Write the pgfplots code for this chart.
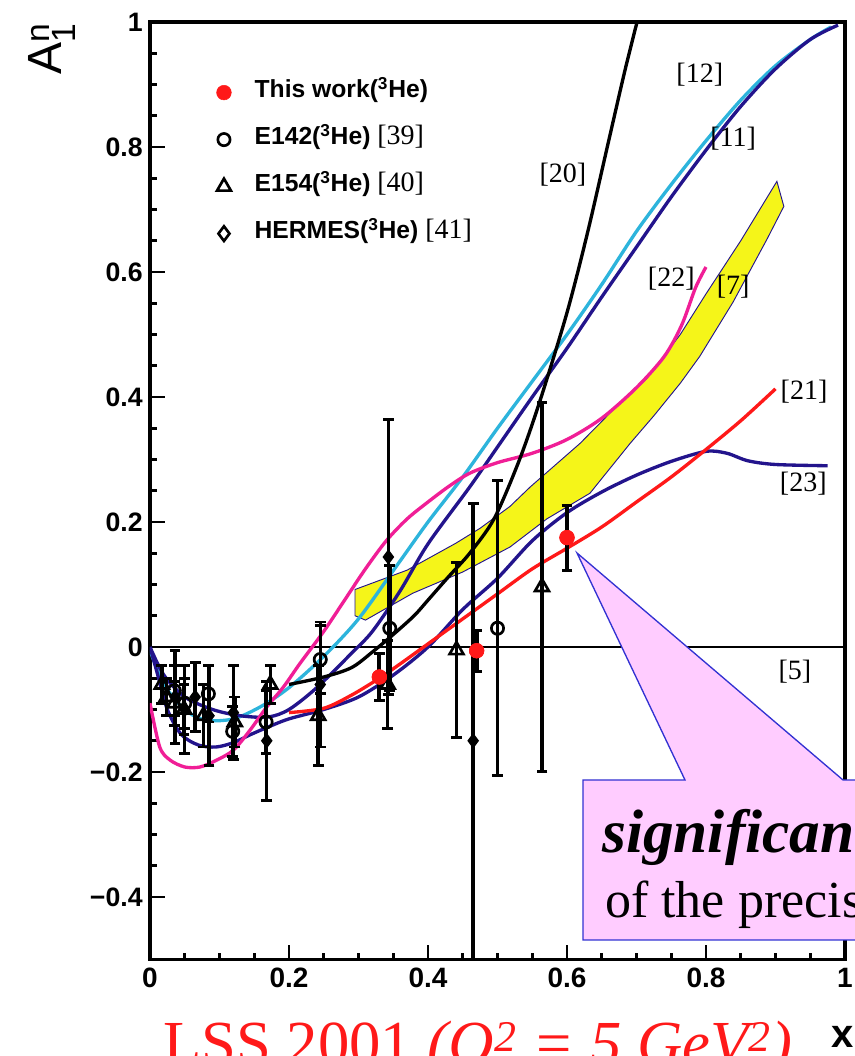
\documentclass[border=0pt]{standalone}
\usepackage{pgfplots}
\pgfplotsset{compat=1.18}
\usepackage{fontspec}
\setmainfont{Liberation Serif}
\setsansfont{Liberation Sans}
\definecolor{cyanc}{RGB}{45,180,220}
\definecolor{navyc}{RGB}{35,20,140}
\definecolor{pinkc}{RGB}{240,30,150}
\definecolor{redc}{RGB}{255,25,25}
\definecolor{bandc}{RGB}{245,245,25}
\definecolor{calloutc}{RGB}{255,204,255}
\definecolor{calloutb}{RGB}{50,50,210}
\begin{document}
\begin{tikzpicture}
\useasboundingbox (-112.5pt,-72.375pt) rectangle (528.75pt,719.625pt);
\begin{axis}[
  at={(0pt,0pt)}, anchor=south west,
  scale only axis, width=521.25pt, height=703.125pt,
  xmin=0, xmax=1, ymin=-0.5, ymax=1,
  axis line style={line width=2.6pt},
  tick style={black, line width=2pt},
  tick align=inside,
  xtick pos=bottom, ytick pos=left,
  major tick length=11pt, minor tick length=5pt,
  minor tick num=3,
  xtick={0,0.2,0.4,0.6,0.8,1},
  xticklabels={0,0.2,0.4,0.6,0.8,1},
  ytick={-0.4,-0.2,0,0.2,0.4,0.6,0.8,1},
  yticklabels={−0.4,−0.2,0,0.2,0.4,0.6,0.8,1},
  yticklabel style={font=\sffamily\bfseries\fontsize{20}{20}\selectfont, xshift=-2pt},
  xticklabel style={font=\sffamily\bfseries\fontsize{21}{21}\selectfont, yshift=-3pt},
  legend style={at={(axis cs:0.0955,0.9045)}, anchor=north west, draw=none, fill=none,
    inner sep=0pt, row sep=19.25pt, column sep=17.5pt,
    nodes={inner sep=0pt, text height=12pt, text depth=4pt},
    font=\sffamily\bfseries\fontsize{18.5}{18.5}\selectfont},
  legend cell align=left,
]
% band [7]
\addplot[fill=bandc, draw=navyc, line width=0.7pt, forget plot] coordinates {
 (0.295,0.092) (0.37,0.123) (0.44,0.166) (0.475,0.19) (0.518,0.225) (0.547,0.256)
 (0.619,0.326) (0.666,0.379) (0.715,0.43) (0.763,0.5) (0.8,0.565) (0.85,0.65) (0.902,0.745)
 (0.912,0.705) (0.888,0.653) (0.839,0.552) (0.791,0.465) (0.763,0.422) (0.725,0.37)
 (0.691,0.326) (0.633,0.246) (0.571,0.205) (0.518,0.16) (0.45,0.12) (0.378,0.086)
 (0.31,0.043) (0.295,0.05)} -- cycle;
% [5] zero line
\addplot[black, line width=2pt, forget plot] coordinates {(0,0) (1,0)};
% [12] cyan
\addplot[cyanc, line width=2.5pt, smooth, forget plot] coordinates {
 (0,-0.005) (0.02,-0.06) (0.05,-0.1) (0.08,-0.117) (0.12,-0.115) (0.16,-0.095) (0.2,-0.065)
 (0.25,-0.015) (0.3,0.045) (0.355,0.13) (0.4,0.2) (0.45,0.272) (0.5,0.35) (0.55,0.425)
 (0.6,0.5) (0.65,0.58) (0.7,0.665) (0.75,0.74) (0.8,0.81) (0.85,0.875) (0.9,0.93)
 (0.95,0.972) (0.98,0.992)};
% [11] navy
\addplot[navyc, line width=2.5pt, smooth, forget plot] coordinates {
 (0,0) (0.02,-0.045) (0.05,-0.08) (0.09,-0.1) (0.13,-0.11) (0.17,-0.112) (0.2,-0.1)
 (0.24,-0.065) (0.29,-0.01) (0.32,0.025) (0.36,0.09) (0.4,0.165) (0.46,0.256) (0.5,0.32)
 (0.55,0.4) (0.6,0.478) (0.65,0.56) (0.7,0.64) (0.75,0.72) (0.8,0.795) (0.85,0.865)
 (0.9,0.925) (0.95,0.972) (0.99,0.995)};
% [23] navy
\addplot[navyc, line width=2.5pt, smooth, forget plot] coordinates {
 (0,0) (0.01,-0.04) (0.025,-0.1) (0.045,-0.14) (0.07,-0.157) (0.095,-0.16) (0.12,-0.153)
 (0.145,-0.14) (0.17,-0.128) (0.2,-0.115) (0.25,-0.1) (0.3,-0.08) (0.35,-0.045) (0.4,0.0)
 (0.45,0.06) (0.5,0.11) (0.55,0.17) (0.6,0.215) (0.65,0.248) (0.7,0.275) (0.75,0.297)
 (0.8,0.313) (0.83,0.31) (0.86,0.298) (0.9,0.292) (0.975,0.29)};
% [22] pink
\addplot[pinkc, line width=2.5pt, smooth, forget plot] coordinates {
 (0,-0.09) (0.014,-0.16) (0.029,-0.181) (0.05,-0.192) (0.072,-0.192) (0.096,-0.181)
 (0.12,-0.165) (0.144,-0.133) (0.168,-0.096) (0.192,-0.064) (0.216,-0.026) (0.25,0.025)
 (0.28,0.075) (0.31,0.125) (0.34,0.17) (0.37,0.205) (0.4,0.232) (0.43,0.257) (0.46,0.278)
 (0.5,0.295) (0.55,0.31) (0.6,0.332) (0.65,0.366) (0.7,0.415) (0.74,0.465) (0.765,0.515)
 (0.785,0.575) (0.8,0.608)};
% [20] black
\addplot[black, line width=2.5pt, smooth, forget plot] coordinates {
 (0.2,-0.06) (0.25,-0.048) (0.29,-0.033) (0.32,-0.008) (0.35,0.02) (0.38,0.05) (0.4,0.075)
 (0.43,0.113) (0.46,0.15) (0.495,0.205) (0.53,0.295) (0.56,0.39) (0.6,0.535) (0.63,0.665)
 (0.66,0.81) (0.685,0.93) (0.71,1.04)};
% [21] red
\addplot[redc, line width=2.5pt, smooth, forget plot] coordinates {
 (0.2,-0.105) (0.25,-0.098) (0.29,-0.077) (0.33,-0.05) (0.36,-0.027) (0.4,0.005) (0.45,0.045)
 (0.5,0.085) (0.55,0.125) (0.6,0.158) (0.65,0.192) (0.7,0.232) (0.75,0.272) (0.8,0.316)
 (0.85,0.362) (0.9,0.413)};
% E154 triangles
\addplot[black, only marks, mark=triangle, mark size=6pt, mark options={line width=2pt, fill=white}, forget plot,
  error bars/.cd, y dir=both, y explicit, error bar style={black, line width=2.6pt},
  error mark options={rotate=90, black, line width=2.2pt, mark size=4pt}] coordinates {
 (0.017,-0.06) +- (0,0.03) (0.024,-0.08) +- (0,0.03) (0.035,-0.09) +- (0,0.035)
 (0.049,-0.1) +- (0,0.04) (0.077,-0.11) +- (0,0.05) (0.122,-0.12) +- (0,0.04)
 (0.173,-0.06) +- (0,0.03) (0.242,-0.11) +- (0,0.08) (0.342,-0.06) +- (0,0.07)
 (0.441,-0.005) +- (0,0.14) (0.564,0.096) +- (0,0.295)};
% E142 circles
\addplot[black, only marks, mark=o, mark size=4.6pt, mark options={line width=2pt, fill=white}, forget plot,
  error bars/.cd, y dir=both, y explicit, error bar style={black, line width=2.6pt},
  error mark options={rotate=90, black, line width=2.2pt, mark size=4pt}] coordinates {
 (0.035,-0.07) +- (0,0.04) (0.05,-0.09) +- (0,0.04) (0.084,-0.075) +- (0,0.045)
 (0.119,-0.135) +- (0,0.04) (0.167,-0.12) +- (0,0.05) (0.245,-0.02) +- (0,0.055)
 (0.345,0.03) +- (0,0.1) (0.5,0.03) +- (0,0.236)};
% HERMES diamonds
\addplot[black, only marks, mark=diamond*, mark size=5pt, mark options={line width=1pt, fill=black}, forget plot,
  error bars/.cd, y dir=both, y explicit, error bar style={black, line width=2.6pt},
  error mark options={rotate=90, black, line width=2.2pt, mark size=4pt}] coordinates {
 (0.036,-0.08) +- (0,0.075) (0.05,-0.1) +- (0,0.07) (0.065,-0.08) +- (0,0.055)
 (0.085,-0.11) +- (0,0.08) (0.12,-0.105) +- (0,0.075) (0.168,-0.15) +- (0,0.095)
 (0.245,-0.06) +- (0,0.1) (0.343,0.144) +- (0,0.22) (0.465,-0.15) +- (0,0.38)};
% This work
\addplot[redc, only marks, mark=*, mark size=5.5pt, forget plot,
  error bars/.cd, y dir=both, y explicit, error bar style={black, line width=3pt},
  error mark options={rotate=90, black, line width=2.4pt, mark size=4pt}] coordinates {
 (0.33,-0.048) +- (0,0.037) (0.47,-0.006) +- (0,0.033) (0.6,0.175) +- (0,0.052)};
\addplot[redc, only marks, mark=*, mark size=5.5pt, forget plot] coordinates {
 (0.33,-0.048) (0.47,-0.006) (0.6,0.175)};
% legend
\addlegendimage{only marks, mark=*, redc, mark size=5.5pt}
\addlegendentry{This work(\textsuperscript{3}He)}
\addlegendimage{only marks, mark=o, black, mark size=4.6pt, mark options={line width=2pt}}
\addlegendentry{E142(\textsuperscript{3}He) {\rmfamily\mdseries\fontsize{21}{21}\selectfont [39]}}
\addlegendimage{only marks, mark=triangle, black, mark size=6pt, mark options={line width=2pt}}
\addlegendentry{E154(\textsuperscript{3}He) {\rmfamily\mdseries\fontsize{21}{21}\selectfont [40]}}
\addlegendimage{only marks, mark=diamond, black, mark size=5.5pt, mark options={line width=2pt}}
\addlegendentry{HERMES(\textsuperscript{3}He) {\rmfamily\mdseries\fontsize{21}{21}\selectfont [41]}}
% curve labels
\begin{scope}[every node/.style={font=\rmfamily\fontsize{21}{21}\selectfont}]
\node at (axis cs:0.791,0.915) {[12]};
\node at (axis cs:0.839,0.814) {[11]};
\node at (axis cs:0.594,0.755) {[20]};
\node at (axis cs:0.75,0.59) {[22]};
\node at (axis cs:0.839,0.576) {[7]};
\node at (axis cs:0.941,0.408) {[21]};
\node at (axis cs:0.94,0.262) {[23]};
\node at (axis cs:0.928,-0.04) {[5]};
\end{scope}
\end{axis}
% callout (px -> pt: x=(X-150)*0.75, y=(959.5-Y)*0.75)
\draw[fill=calloutc, draw=calloutb, line width=1pt]
  (324.75pt,134.625pt) -- (401.25pt,134.625pt) -- (320.25pt,304.875pt) -- (519.75pt,134.625pt)
  -- (750pt,134.625pt) -- (750pt,14.625pt) -- (324.75pt,14.625pt) -- cycle;
\node[anchor=base west, inner sep=0pt, font=\rmfamily\bfseries\itshape\fontsize{46}{46}\selectfont]
  at (339pt,79.875pt) {significant improvement};
\node[anchor=base west, inner sep=0pt, font=\rmfamily\fontsize{39}{39}\selectfont]
  at (341.25pt,31.125pt) {of the precision data};
% outer labels
\node[anchor=base west, inner sep=0pt, text=redc, font=\rmfamily\fontsize{47}{47}\selectfont]
  at (9.75pt,-78.375pt) {LSS 2001 \textit{(Q\textsuperscript{2} = 5 GeV\textsuperscript{2})}};
\node[inner sep=0pt, font=\sffamily\bfseries\fontsize{30}{30}\selectfont] at (519.75pt,-58pt) {x};
\node[inner sep=0pt, rotate=90, anchor=base west, font=\sffamily\fontsize{36}{36}\selectfont] at (-66pt,663.4pt) {A$_{\mathsf{1}}^{\mathsf{n}}$};
\end{tikzpicture}
\end{document}
